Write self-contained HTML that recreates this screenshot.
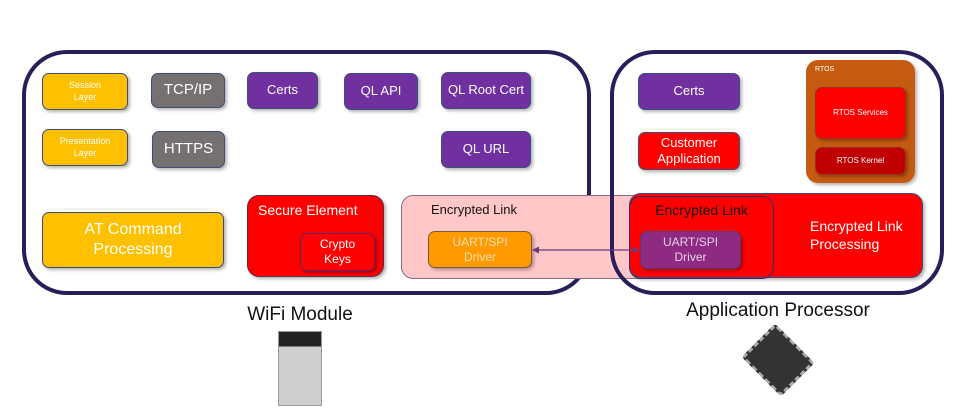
<!DOCTYPE html>
<html><head><meta charset="utf-8"><style>
body{margin:0;width:953px;height:413px;background:#fff;position:relative;overflow:hidden;font-family:"Liberation Sans",sans-serif}
.a{position:absolute;box-sizing:border-box}
.b{position:absolute;box-sizing:border-box;display:flex;align-items:center;justify-content:center;text-align:center;color:#fff;border:1.5px solid #3d4e7a;border-radius:7px;box-shadow:2px 2px 3px rgba(0,0,0,.3);line-height:1.25}
.y{background:#ffc000}.g{background:#757171}.p{background:#7030a0}.r{background:#ff0000}
</style></head><body>
<div class="a" style="left:22px;top:50px;width:569px;height:245px;border:4px solid #2a1e5a;border-radius:45px"></div>
<div class="a" style="left:401px;top:195px;width:372px;height:84px;background:#ffc7c7;border:1.5px solid #8a6a8a;border-radius:12px"></div>
<div class="a" style="left:401px;top:194px;width:200px;height:30px;font-size:13px;color:#111;padding-left:30px;padding-top:8px">Encrypted Link</div>
<div class="b r" style="left:629px;top:193px;width:294px;height:85px;border-radius:12px;justify-content:flex-start;padding-left:180px;text-align:left;font-size:14px">Encrypted Link<br>Processing</div>
<div class="a" style="left:629px;top:196px;width:145px;height:83px;border:1.5px solid #3a2a6a;border-radius:12px"></div>
<div class="a" style="left:629px;top:202px;width:145px;text-align:center;font-size:14px;color:#111">Encrypted Link</div>
<div class="a" style="left:610px;top:50px;width:334px;height:245px;border:4px solid #2a1e5a;border-radius:45px"></div>

<div class="b y" style="left:42px;top:73px;width:86px;height:37px;font-size:9px">Session<br>Layer</div>
<div class="b g" style="left:151px;top:73px;width:74px;height:35px;font-size:15px">TCP/IP</div>
<div class="b p" style="left:247px;top:72px;width:71px;height:37px;font-size:13px">Certs</div>
<div class="b p" style="left:344px;top:73px;width:74px;height:37px;font-size:13px">QL API</div>
<div class="b p" style="left:441px;top:72px;width:90px;height:37px;font-size:13px">QL Root Cert</div>
<div class="b y" style="left:42px;top:129px;width:86px;height:37px;font-size:9px">Presentation<br>Layer</div>
<div class="b g" style="left:152px;top:131px;width:73px;height:37px;font-size:15px">HTTPS</div>
<div class="b p" style="left:441px;top:131px;width:90px;height:37px;font-size:13px">QL URL</div>
<div class="b y" style="left:42px;top:212px;width:182px;height:56px;font-size:16px">AT Command<br>Processing</div>
<div class="b r" style="left:247px;top:195px;width:137px;height:82px;border-radius:12px;align-items:flex-start;justify-content:flex-start;padding:6px 0 0 10px;font-size:14px;border-color:#5a2a4a">Secure Element</div>
<div class="b r" style="left:300px;top:233px;width:75px;height:38px;font-size:12px;border-color:#5a2a6a">Crypto<br>Keys</div>
<div class="b" style="left:428px;top:231px;width:104px;height:37px;font-size:12px;background:#ff9a00;color:#ffe0b0;border-color:#7a5a3a">UART/SPI<br>Driver</div>
<div class="b" style="left:640px;top:231px;width:101px;height:38px;font-size:12px;background:#8e2a82;color:#e8d0e8;border-color:#5a3a6a">UART/SPI<br>Driver</div>
<svg class="a" style="left:530px;top:243px" width="112" height="14"><line x1="3" y1="7" x2="108" y2="7" stroke="#6a3a7a" stroke-width="1.2"/><path d="M2 7l7-3.5v7zM110 7l-7-3.5v7z" fill="#6a3a7a"/></svg>

<div class="b p" style="left:638px;top:73px;width:102px;height:37px;font-size:13px">Certs</div>
<div class="b r" style="left:638px;top:132px;width:102px;height:38px;font-size:13px">Customer<br>Application</div>
<div class="a" style="left:806px;top:60px;width:109px;height:123px;background:#c55a11;border-radius:12px;box-shadow:2px 2px 3px rgba(0,0,0,.3)"></div>
<div class="a" style="left:815px;top:66px;font-size:7px;color:#fff">RTOS</div>
<div class="b r" style="left:815px;top:87px;width:91px;height:52px;font-size:8px;border-color:#a03020">RTOS Services</div>
<div class="b" style="left:815px;top:147px;width:91px;height:28px;font-size:8px;background:#c00000;border-color:#a03020">RTOS Kernel</div>

<div class="a" style="left:200px;top:304px;width:200px;text-align:center;font-size:19px;color:#111">WiFi Module</div>
<div class="a" style="left:640px;top:300px;width:276px;text-align:center;font-size:19px;color:#111">Application Processor</div>
<div class="a" style="left:278px;top:331px;width:44px;height:75px;background:linear-gradient(#222 0 20%,#cfcfcf 20%);border:1px solid #999"></div>
<div class="a" style="left:750px;top:332px;width:56px;height:56px;background:#333;transform:rotate(45deg) scaleY(.85);border:3px dashed #aaa;border-radius:4px"></div>
</body></html>
